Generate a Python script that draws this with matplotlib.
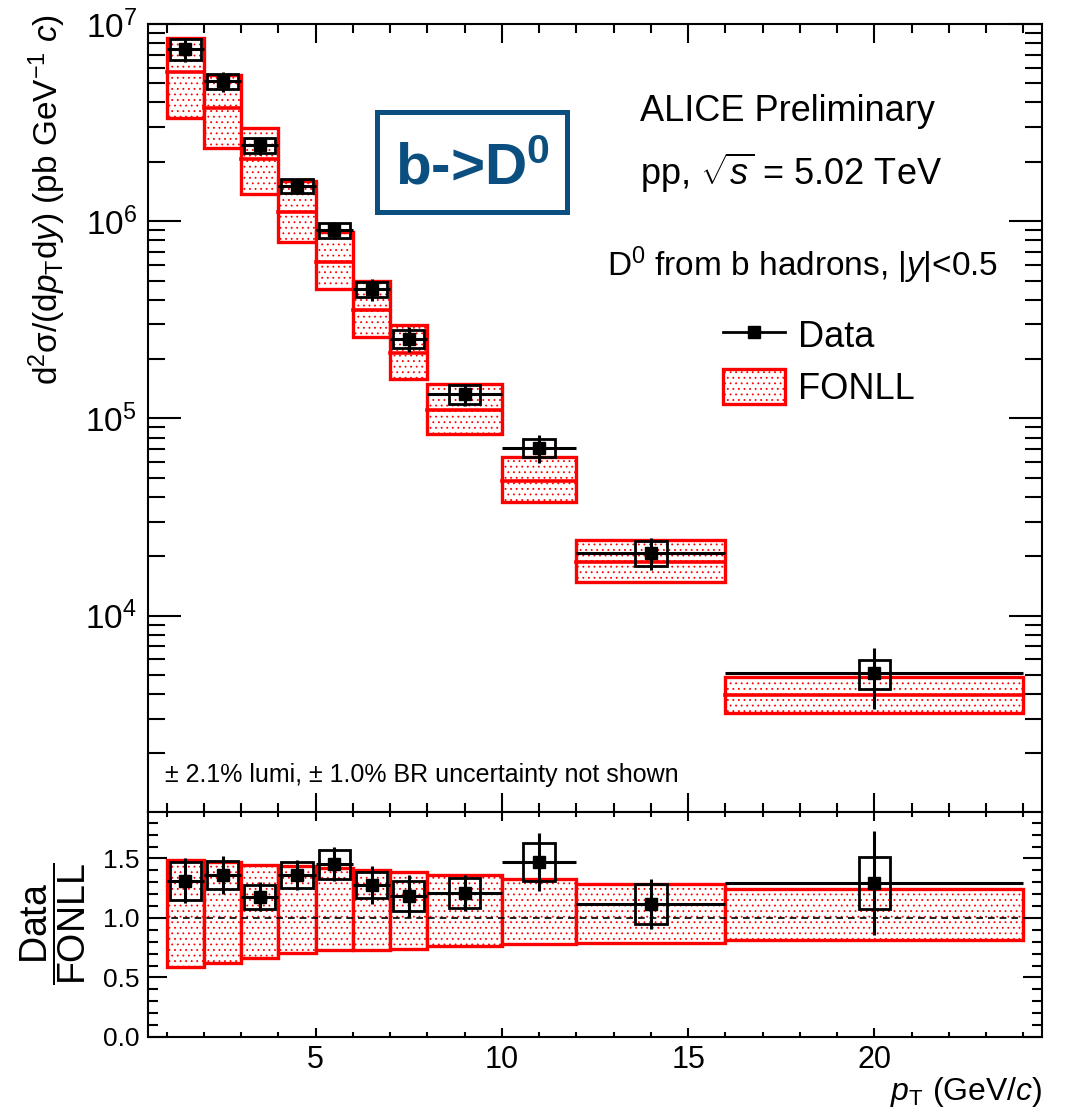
import numpy as np
import matplotlib
matplotlib.use("Agg")
import matplotlib.pyplot as plt
from matplotlib.patches import Rectangle, Patch
from matplotlib.lines import Line2D
from matplotlib.ticker import MultipleLocator, LogLocator, NullFormatter, FormatStrFormatter

plt.rcParams['font.family'] = ['Liberation Sans', 'DejaVu Sans']
plt.rcParams['mathtext.fontset'] = 'custom'
plt.rcParams['mathtext.rm'] = 'Liberation Sans'
plt.rcParams['mathtext.it'] = 'Liberation Sans:italic'
plt.rcParams['mathtext.bf'] = 'Liberation Sans:bold'
plt.rcParams['hatch.linewidth'] = 0.6

# pT bins (GeV/c)
pt_low = [1, 2, 3, 4, 5, 6, 7, 8, 10, 12, 16]
pt_high = [2, 3, 4, 5, 6, 7, 8, 10, 12, 16, 24]

# measured cross section (pb GeV^-1 c) with stat and syst uncertainties
data = [7.46e6, 5.13e6, 2.43e6, 1.51e6, 9.0e5, 4.52e5, 2.54e5, 1.33e5, 7.1e4, 2.09e4, 5.1e3]
stat = [1.08e6, 5.95e5, 2.53e5, 1.36e5, 9.0e4, 5.65e4, 3.78e4, 1.70e4, 1.17e4, 3.9e3, 1.73e3]
syst = [9.1e5, 4.5e5, 2.07e5, 1.25e5, 7.5e4, 3.9e4, 2.72e4, 1.42e4, 7.6e3, 3.1e3, 8.6e2]

# FONLL prediction: central, upper and lower edge of the band
fonll_c = [5.68e6, 3.77e6, 2.06e6, 1.11e6, 6.2e5, 3.54e5, 2.15e5, 1.10e5, 4.83e4, 1.87e4, 3.94e3]
fonll_up = [8.46e6, 5.54e6, 2.98e6, 1.59e6, 8.79e5, 4.96e5, 2.98e5, 1.50e5, 6.41e4, 2.41e4, 4.91e3]
fonll_lo = [3.33e6, 2.34e6, 1.37e6, 7.86e5, 4.51e5, 2.59e5, 1.59e5, 8.37e4, 3.76e4, 1.48e4, 3.20e3]

BOX_HW = 0.42  # half width of syst boxes
RED = '#ff0000'
BLUE = '#0a4f80'

pt_low = np.array(pt_low, float)
pt_high = np.array(pt_high, float)
x = 0.5 * (pt_low + pt_high)
xerr = 0.5 * (pt_high - pt_low)
data, stat, syst = np.array(data), np.array(stat), np.array(syst)
fonll_c, fonll_up, fonll_lo = np.array(fonll_c), np.array(fonll_up), np.array(fonll_lo)

W, H = 1069, 1117
fig = plt.figure(figsize=(W / 100, H / 100), dpi=100)
ax = fig.add_axes([148 / W, 1 - 812 / H, 894 / W, 788 / H])
ax2 = fig.add_axes([148 / W, 1 - 1037 / H, 894 / W, 225 / H], sharex=ax)


def draw_fonll(a, lo, hi, c=None):
    for i in range(len(x)):
        a.add_patch(Rectangle((pt_low[i], lo[i]), pt_high[i] - pt_low[i], hi[i] - lo[i],
                              facecolor='white', edgecolor=RED, hatch='...', lw=2.4, zorder=2))
        if c is not None:
            a.plot([pt_low[i], pt_high[i]], [c[i], c[i]], color=RED, lw=2.6, zorder=3)


def draw_data(a, y, ys, yst):
    for i in range(len(x)):
        a.add_patch(Rectangle((x[i] - BOX_HW, y[i] - yst[i]), 2 * BOX_HW, 2 * yst[i],
                              fill=False, edgecolor='k', lw=2.0, zorder=5))
    a.errorbar(x, y, xerr=xerr, yerr=ys, fmt='s', color='k', ms=8, lw=2.2,
               capsize=0, zorder=6)


# ---- top panel
draw_fonll(ax, fonll_lo, fonll_up, fonll_c)
draw_data(ax, data, stat, syst)
ax.set_yscale('log')
ax.set_xlim(0.5, 24.5)
ax.set_ylim(1.01e3, 1e7)

# ---- ratio panel
ax2.axhline(1.0, color='k', ls=(0, (4, 3)), lw=1.2, zorder=4)
draw_fonll(ax2, fonll_lo / fonll_c, fonll_up / fonll_c)
draw_data(ax2, data / fonll_c, stat / fonll_c, syst / fonll_c)
ax2.set_ylim(0, 1.89)

for a in (ax, ax2):
    for s in a.spines.values():
        s.set_linewidth(1.5)
    a.xaxis.set_major_locator(MultipleLocator(5))
    a.xaxis.set_minor_locator(MultipleLocator(1))
    a.tick_params(which='both', direction='in', top=True, right=True, width=1.5)

ax.yaxis.set_major_locator(LogLocator(base=10))
ax.yaxis.set_minor_locator(LogLocator(base=10, subs=np.arange(2, 10)))
ax.yaxis.set_minor_formatter(NullFormatter())
ax.tick_params(axis='y', which='major', length=24, labelsize=24, pad=8)
ax.tick_params(axis='y', which='minor', length=12)
ax.tick_params(axis='x', which='major', length=13.5)
ax.tick_params(axis='x', which='minor', length=6.5)
ax.tick_params(axis='x', labelbottom=False)

ax2.yaxis.set_major_locator(MultipleLocator(0.5))
ax2.yaxis.set_minor_locator(MultipleLocator(0.1))
ax2.yaxis.set_major_formatter(FormatStrFormatter('%.1f'))
ax2.tick_params(axis='y', which='major', length=14, labelsize=19, pad=6)
ax2.tick_params(axis='y', which='minor', length=7)
ax2.tick_params(axis='x', which='major', length=6.5, labelsize=22, pad=6)
ax2.tick_params(axis='x', which='minor', length=3.5)

# ---- labels
fig.text(47 / W, 1 - 14 / H, 'd$^{2}$σ/(d$p_{\\rm T}$d$y$) (pb GeV$^{-1}$ $c$)',
         rotation=90, ha='center', va='top', fontsize=24)
fig.text(53 / W, 1 - 924 / H, r'$\dfrac{\rm Data}{\rm FONLL}$',
         rotation=90, ha='center', va='center', fontsize=27)
fig.text(1042 / W, 17 / H, '$p_{\\rm T}$ (GeV/$c$)', ha='right', va='baseline', fontsize=23)

ax.text(0.550, 0.877, 'ALICE Preliminary', transform=ax.transAxes, fontsize=26)
ax.text(0.550, 0.796, r'pp, $\sqrt{s}$ = 5.02 TeV', transform=ax.transAxes, fontsize=26)
ax.text(0.513, 0.680, 'D$^{0}$ from b hadrons, |$y$|<0.5', transform=ax.transAxes,
        fontsize=24)
ax.text(0.019, 0.038, '± 2.1% lumi, ± 1.0% BR uncertainty not shown',
        transform=ax.transAxes, fontsize=18)

ax.add_patch(Rectangle((0.256, 0.762), 0.213, 0.126, transform=ax.transAxes,
                       fill=False, edgecolor=BLUE, lw=3.6, zorder=7))
ax.text(0.276, 0.796, r'b->D$^{\mathbf{0}}$', transform=ax.transAxes, fontsize=42,
        fontweight='bold', color=BLUE)

handles = [Line2D([], [], color='k', lw=2.0, marker='s', ms=8),
           Patch(facecolor='white', edgecolor=RED, hatch='...', lw=2.4)]
ax.legend(handles, ['Data', 'FONLL'], loc='upper left', bbox_to_anchor=(0.643, 0.628),
          frameon=False, fontsize=26, handlelength=1.72, handleheight=1.11,
          handletextpad=0.36, labelspacing=0.4, borderpad=0, borderaxespad=0)

fig.savefig('out.png', dpi=100)
